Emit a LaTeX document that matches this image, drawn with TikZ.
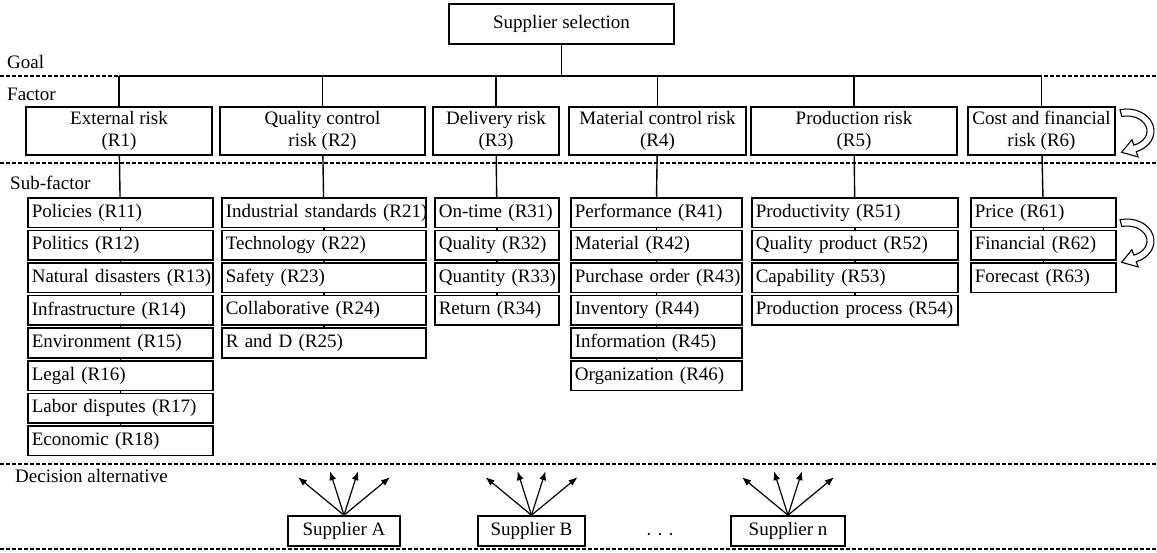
\documentclass[tikz,border=0pt]{standalone}
\usepackage{fontspec}
\setmainfont{Liberation Serif}
\usetikzlibrary{arrows.meta,positioning,calc}

\tikzset{
  turnarrow/.pic={
    \draw[line width=1.1pt,fill=white] (-7,-21.25)
      arc[start angle=-105,end angle=70,x radius=27,y radius=22]
      -- (11.1,25.9) -- (-5.4,21.3) -- (4.9,8.8) -- (6.84,14.1)
      arc[start angle=70,end angle=-105,x radius=20,y radius=15] -- cycle;
  }
}

\begin{document}
\begin{tikzpicture}[x=1pt,y=-1pt,
  box/.style={draw,line width=1.6pt,fill=white,inner sep=2pt,font=\fontsize{19}{22}\selectfont},
  fbox/.style={box,align=center,minimum height=48pt},
  sbox/.style={box,anchor=north west,align=left,inner xsep=4pt,minimum height=29.5pt},
  tag/.style={anchor=west,inner sep=0pt,font=\fontsize{19}{22}\selectfont},
  sep/.style={line width=1.8pt,dash pattern=on 4pt off 2pt},
  link/.style={line width=1.4pt},
  fan/.style={line width=1.2pt,-{Latex[length=9pt,width=7pt]}}]

\useasboundingbox (0,0) rectangle (1157,552);

% level names
\node[tag] (goal) at (7,62) {Goal};
\node[tag] (factor) at (7,94) {Factor};
\node[tag] (subfactor) at (10,183) {Sub-factor};
\node[tag] (decision) at (15,476) {Decision alternative};

% level separators
\foreach \y in {76,163,464,549}
  \draw[sep] (0,\y) -- (1157,\y);

% goal
\node[box,minimum width=225pt,minimum height=40pt] (sel) at (561.5,24) {Supplier selection};

% factors
\foreach \n/\x/\w/\t in {1/119/186/{External risk\\(R1)},
    2/322.5/205/{Quality control\\risk (R2)},
    3/496/126/{Delivery risk\\(R3)},
    4/657.5/177/{Material control risk\\(R4)},
    5/854/206/{Production risk\\(R5)},
    6/1041.5/147/{Cost and financial\\risk (R6)}}
  \node[fbox,minimum width=\w pt] (r\n) at (\x,131) {\t};

\coordinate (bus) at (561.5,76);
\draw[link] (sel) -- (bus);
\draw[link] (r1.north |- bus) -- (r6.north |- bus);
\foreach \n in {1,...,6}
  \draw[link] (r\n) -- (r\n.north |- bus);

% sub-factors
\foreach \c/\xl/\bw/\items in {
    1/27/185/{Policies (R11),Politics (R12),Natural disasters (R13),Infrastructure (R14),Environment (R15),Legal (R16),Labor disputes (R17),Economic (R18)},
    2/221/204/{Industrial standards (R21),Technology (R22),Safety (R23),Collaborative (R24),R and D (R25)},
    3/434/124/{On-time (R31),Quality (R32),Quantity (R33),Return (R34)},
    4/570/171/{Performance (R41),Material (R42),Purchase order (R43),Inventory (R44),Information (R45),Organization (R46)},
    5/751/206/{Productivity (R51),Quality product (R52),Capability (R53),Production process (R54)},
    6/970/145/{Price (R61),Financial (R62),Forecast (R63)}}{
  \pgfmathsetmacro\tw{\bw-8}
  \foreach \t [count=\i] in \items {
    \node[sbox,text width=\tw pt] (s\c-\i) at (\xl,{197+(\i-1)*32.6}) {\mbox{\t}};
    \ifnum\i>1
      \pgfmathtruncatemacro\prev{\i-1}
      \draw[link] (s\c-\prev) -- (s\c-\i);
    \fi
  }
  \draw[link] (r\c) -- (s\c-1);
}

% turn arrows
\pic at (1127,131) {turnarrow};
\pic at (1127,241) {turnarrow};

% alternatives
\begin{scope}[every node/.append style={font=\fontsize{17}{20}\selectfont}]
\node[box,minimum width=112pt,minimum height=30pt] (supA) at (344,531) {Supplier A};
\node[box,minimum width=107pt,minimum height=30pt] (supB) at (531.5,531) {Supplier B};
\node[box,minimum width=114pt,minimum height=30pt] (supN) at (788,531) {Supplier n};
\end{scope}
\node[font=\fontsize{9}{10}\selectfont] (dots) at (660,535)
  {\textbullet\hspace{8pt}\textbullet\hspace{8pt}\textbullet};

\foreach \s in {supA,supB,supN}{
  \foreach \dx/\dy [count=\k] in {-46/-38,-14/-44,14/-44,46/-38}{
    \coordinate (\s-tip\k) at ($(\s.north)+(\dx,\dy)$);
    \draw[fan] (\s.north) -- (\s-tip\k);
  }
}
\end{tikzpicture}
\end{document}
